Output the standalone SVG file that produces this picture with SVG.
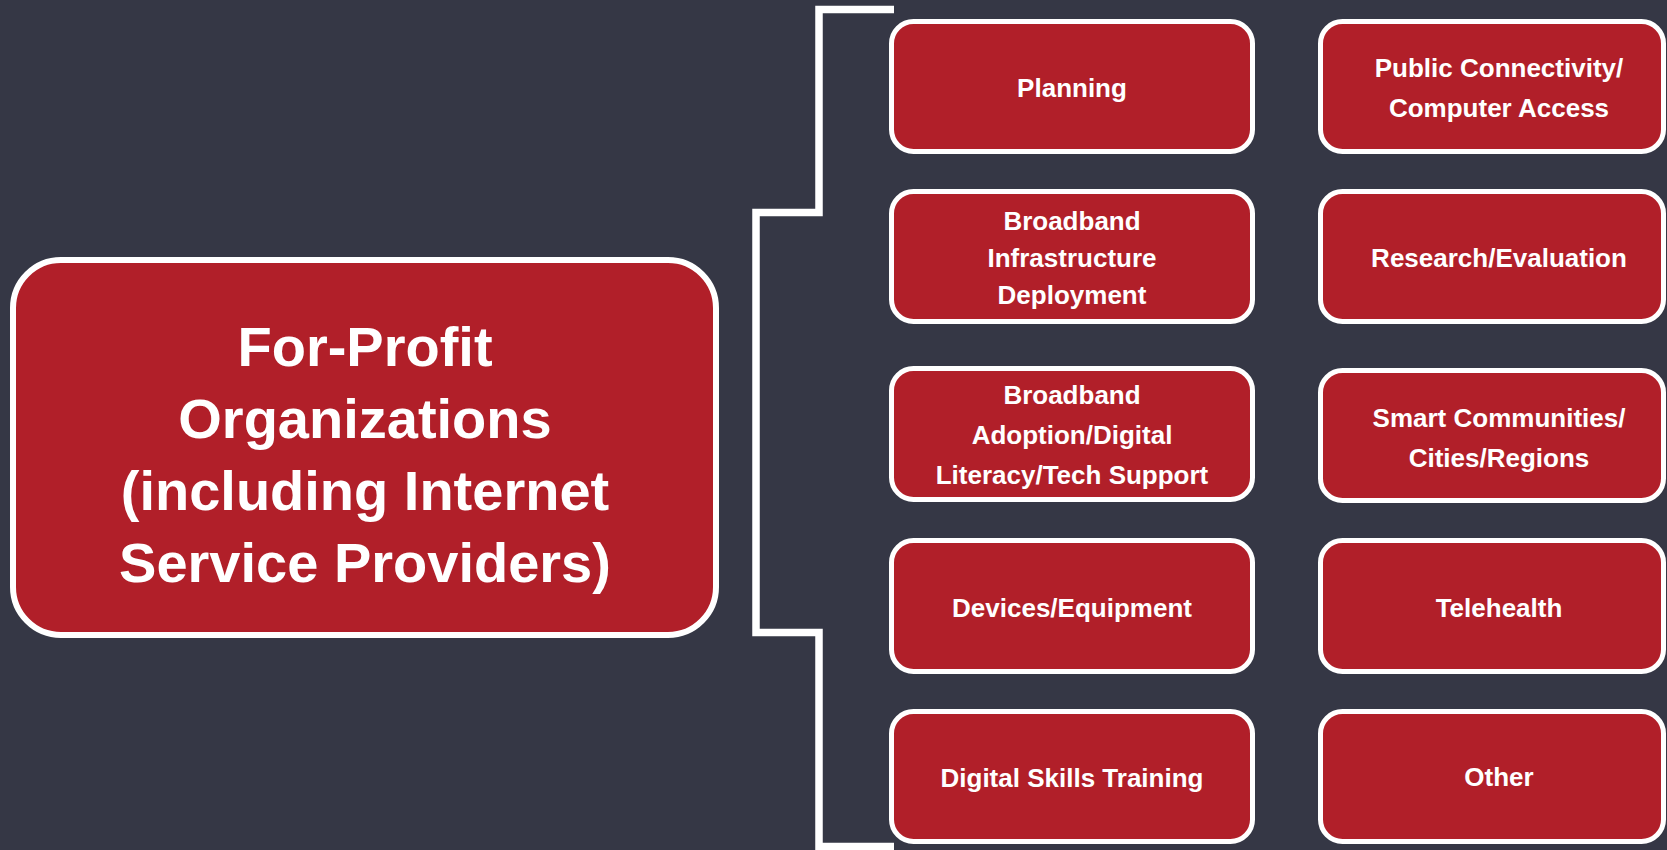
<svg xmlns="http://www.w3.org/2000/svg" width="1667" height="850" viewBox="0 0 1667 850">
  <style>
    .bg { fill: #353745; }
    .box { fill: #B11F29; stroke: #FFFFFF; stroke-width: 5; }
    .main { fill: #B11F29; stroke: #FFFFFF; stroke-width: 6; }
    .lbl { font-family: "Liberation Sans", Arial, sans-serif; font-weight: bold; font-size: 26px; fill: #FFFFFF; text-anchor: middle; }
    .title { font-family: "Liberation Sans", Arial, sans-serif; font-weight: bold; font-size: 56px; fill: #FFFFFF; text-anchor: middle; }
    .bracket { fill: none; stroke: #FFFFFF; stroke-width: 7.5; stroke-linejoin: miter; }
  </style>
  <rect class="bg" x="0" y="0" width="1667" height="850"/>

  <g id="connectors">
    <path class="bracket" d="M894,9.5 H819 V212.5 H756 V632.5 H819 V846.5 H894"/>
  </g>

  <g id="main">
    <rect class="main" x="13" y="260" width="703" height="375" rx="48" ry="48"/>
    <text class="title" x="365" y="366">For-Profit</text>
    <text class="title" x="365" y="438">Organizations</text>
    <text class="title" x="365" y="510">(including Internet</text>
    <text class="title" x="365" y="582">Service Providers)</text>
  </g>

  <g id="planning">
    <rect class="box" x="891.5" y="21.5" width="361" height="130" rx="22"/>
    <text class="lbl" x="1072" y="97">Planning</text>
  </g>
  <g id="broadband-infrastructure">
    <rect class="box" x="891.5" y="191.5" width="361" height="130" rx="22"/>
    <text class="lbl" x="1072" y="230">Broadband</text>
    <text class="lbl" x="1072" y="267">Infrastructure</text>
    <text class="lbl" x="1072" y="304">Deployment</text>
  </g>
  <g id="broadband-adoption">
    <rect class="box" x="891.5" y="368.5" width="361" height="131" rx="22"/>
    <text class="lbl" x="1072" y="404">Broadband</text>
    <text class="lbl" x="1072" y="444">Adoption/Digital</text>
    <text class="lbl" x="1072" y="484">Literacy/Tech Support</text>
  </g>
  <g id="devices">
    <rect class="box" x="891.5" y="540.5" width="361" height="131" rx="22"/>
    <text class="lbl" x="1072" y="617">Devices/Equipment</text>
  </g>
  <g id="digital-skills">
    <rect class="box" x="891.5" y="711.5" width="361" height="130" rx="22"/>
    <text class="lbl" x="1072" y="787">Digital Skills Training</text>
  </g>

  <g id="public-connectivity">
    <rect class="box" x="1320.5" y="21.5" width="343" height="130" rx="22"/>
    <text class="lbl" x="1499" y="77">Public Connectivity/</text>
    <text class="lbl" x="1499" y="117">Computer Access</text>
  </g>
  <g id="research">
    <rect class="box" x="1320.5" y="191.5" width="343" height="130" rx="22"/>
    <text class="lbl" x="1499" y="267">Research/Evaluation</text>
  </g>
  <g id="smart-communities">
    <rect class="box" x="1320.5" y="370.5" width="343" height="130" rx="22"/>
    <text class="lbl" x="1499" y="427">Smart Communities/</text>
    <text class="lbl" x="1499" y="467">Cities/Regions</text>
  </g>
  <g id="telehealth">
    <rect class="box" x="1320.5" y="540.5" width="343" height="131" rx="22"/>
    <text class="lbl" x="1499" y="617">Telehealth</text>
  </g>
  <g id="other">
    <rect class="box" x="1320.5" y="711.5" width="343" height="130" rx="22"/>
    <text class="lbl" x="1499" y="786">Other</text>
  </g>
</svg>
